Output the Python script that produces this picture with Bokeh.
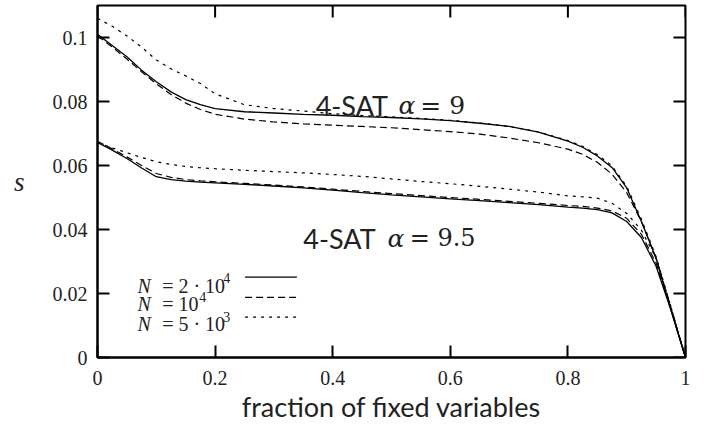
from bokeh.plotting import figure
from bokeh.models import Range1d, FixedTicker, Label, ColumnDataSource
from bokeh.embed import file_html
from bokeh.resources import INLINE

# ---------------- data ----------------
x_frac = [0, 0.025, 0.05, 0.075, 0.1, 0.125, 0.15, 0.175, 0.2, 0.25, 0.3, 0.35,
          0.4, 0.45, 0.5, 0.55, 0.6, 0.65, 0.7, 0.75, 0.8, 0.825, 0.85, 0.875,
          0.9, 0.925, 0.95, 0.975, 1.0]

# 4-SAT alpha = 9
s9_n20k = [0.1010, 0.0975, 0.0940, 0.0898, 0.0862, 0.0830, 0.0806, 0.0790, 0.0778,
           0.0768, 0.0764, 0.0760, 0.0757, 0.0753, 0.0750, 0.0746, 0.0740, 0.0732,
           0.0722, 0.0704, 0.0676, 0.0657, 0.0630, 0.0594, 0.0530, 0.0425, 0.0310,
           0.0150, 0.0]
s9_n10k = [0.1005, 0.0970, 0.0933, 0.0893, 0.0855, 0.0822, 0.0795, 0.0775, 0.0760,
           0.0745, 0.0736, 0.0730, 0.0726, 0.0722, 0.0718, 0.0712, 0.0706, 0.0698,
           0.0686, 0.0671, 0.0651, 0.0635, 0.0610, 0.0573, 0.0515, 0.0425, 0.0310,
           0.0155, 0.0]
s9_n5k = [0.1060, 0.1035, 0.1005, 0.0970, 0.0930, 0.0902, 0.0880, 0.0856, 0.0824,
          0.0790, 0.0778, 0.0770, 0.0762, 0.0756, 0.0752, 0.0747, 0.0741, 0.0733,
          0.0722, 0.0705, 0.0678, 0.0660, 0.0634, 0.0599, 0.0535, 0.0432, 0.0315,
          0.0160, 0.0]

# 4-SAT alpha = 9.5
s95_n20k = [0.0672, 0.0648, 0.0622, 0.0592, 0.0565, 0.0556, 0.0551, 0.0548, 0.0546,
            0.0541, 0.0536, 0.0530, 0.0523, 0.0515, 0.0508, 0.0502, 0.0496, 0.0490,
            0.0484, 0.0478, 0.0470, 0.0467, 0.0462, 0.0452, 0.0425, 0.0375, 0.0285,
            0.0150, 0.0]
s95_n10k = [0.0676, 0.0652, 0.0627, 0.0600, 0.0575, 0.0563, 0.0556, 0.0552, 0.0549,
            0.0544, 0.0539, 0.0533, 0.0526, 0.0519, 0.0512, 0.0506, 0.0500, 0.0494,
            0.0488, 0.0482, 0.0475, 0.0472, 0.0467, 0.0458, 0.0435, 0.0385, 0.0295,
            0.0155, 0.0]
s95_n5k = [0.0672, 0.0655, 0.0640, 0.0625, 0.0612, 0.0603, 0.0597, 0.0593, 0.0590,
           0.0585, 0.0581, 0.0577, 0.0572, 0.0566, 0.0558, 0.0550, 0.0543, 0.0535,
           0.0526, 0.0517, 0.0505, 0.0502, 0.0498, 0.0482, 0.0450, 0.0398, 0.0310,
           0.0160, 0.0]

series_labels = ["= 2 · 10", "= 10", "= 5 · 10"]
series_exponents = ["4", "4", "3"]

x_ticks = [0, 0.2, 0.4, 0.6, 0.8, 1.0]
x_tick_labels = ["0", "0.2", "0.4", "0.6", "0.8", "1"]
y_ticks = [0, 0.02, 0.04, 0.06, 0.08, 0.1]
y_tick_labels = ["0", "0.02", "0.04", "0.06", "0.08", "0.1"]

# ---------------- styles ----------------
SERIF = "Liberation Serif"
MATH = "DejaVu Serif"
SANS = "Lato"
INK = "#222222"
dashes = ["solid", "7 4", "3 5"]
widths = [1.3, 1.2, 1.2]
X_MAX, Y_MAX = 1.0, 0.11
FRAME_W, FRAME_H = 588, 352
TICK_PX = 12

p = figure(frame_width=FRAME_W, frame_height=FRAME_H,
           x_range=Range1d(0, X_MAX), y_range=Range1d(0, Y_MAX),
           output_backend="svg", toolbar_location=None,
           min_border_left=97, min_border_right=12, min_border_top=5,
           min_border_bottom=62)
p.xgrid.visible = False
p.ygrid.visible = False
p.outline_line_color = "black"
p.outline_line_width = 2
p.background_fill_color = "white"

src = ColumnDataSource(dict(x=x_frac, a=s9_n20k, b=s9_n10k, c=s9_n5k,
                            d=s95_n20k, e=s95_n10k, f=s95_n5k))
for col, i in [("a", 0), ("b", 1), ("c", 2), ("d", 0), ("e", 1), ("f", 2)]:
    p.line("x", col, source=src, line_color="black", line_width=widths[i],
           line_dash=dashes[i])


def style_axis(ax, ticks, labels):
    ax.ticker = FixedTicker(ticks=ticks)
    ax.major_label_overrides = {t: l for t, l in zip(ticks, labels)}
    ax.minor_tick_line_color = None
    ax.major_tick_in = TICK_PX
    ax.major_tick_out = 0
    ax.major_tick_line_width = 2
    ax.axis_line_width = 2
    ax.axis_line_color = "black"
    ax.major_tick_line_color = "black"
    ax.major_label_text_font = SERIF
    ax.major_label_text_color = INK
    ax.major_label_text_font_size = "20px"


style_axis(p.xaxis[0], x_ticks, x_tick_labels)
style_axis(p.yaxis[0], y_ticks, y_tick_labels)
p.xaxis[0].major_label_standoff = 13
p.yaxis[0].major_label_standoff = 10

p.xaxis[0].axis_label = "fraction of fixed variables"
p.xaxis[0].axis_label_text_font = SANS
p.xaxis[0].axis_label_text_font_style = "normal"
p.xaxis[0].axis_label_text_font_size = "27px"
p.xaxis[0].axis_label_text_color = INK
p.xaxis[0].axis_label_standoff = 2

p.yaxis[0].axis_label = "s"
p.yaxis[0].axis_label_orientation = "horizontal"
p.yaxis[0].axis_label_text_font = SERIF
p.yaxis[0].axis_label_text_font_style = "italic"
p.yaxis[0].axis_label_text_font_size = "27px"
p.yaxis[0].axis_label_text_color = INK
p.yaxis[0].axis_label_standoff = 25

# mirrored inward ticks on the top and right edges (tick length of TICK_PX pixels)
dy_tick = TICK_PX * Y_MAX / FRAME_H
dx_tick = TICK_PX * X_MAX / FRAME_W
top_src = ColumnDataSource(dict(x0=x_ticks, y0=[Y_MAX] * len(x_ticks),
                                x1=x_ticks, y1=[Y_MAX - dy_tick] * len(x_ticks)))
right_src = ColumnDataSource(dict(x0=[X_MAX] * len(y_ticks), y0=y_ticks,
                                  x1=[X_MAX - dx_tick] * len(y_ticks), y1=y_ticks))
p.segment(x0="x0", y0="y0", x1="x1", y1="y1", source=top_src,
          line_color="black", line_width=2)
p.segment(x0="x0", y0="y0", x1="x1", y1="y1", source=right_src,
          line_color="black", line_width=2)

# ---------------- annotations ----------------
def add_label(x, y, text, font, size, style="normal", color=INK):
    p.add_layout(Label(x=x, y=y, text=text, text_font=font, text_font_size=size,
                       text_font_style=style, text_color=color,
                       text_baseline="alphabetic", text_align="left"))

# 4-SAT alpha = 9
add_label(0.371, 0.0788, "4-SAT", SANS, "27px")
add_label(0.512, 0.0788, "α", MATH, "25px", "italic")
add_label(0.549, 0.0788, "= 9", MATH, "25px")
# 4-SAT alpha = 9.5
add_label(0.350, 0.0372, "4-SAT", SANS, "27px")
add_label(0.493, 0.0372, "α", MATH, "25px", "italic")
add_label(0.531, 0.0372, "= 9.5", MATH, "24px")

# legend (text on the left, line sample on the right)
leg_text_x = 0.068
leg_eq_x = 0.110
leg_exp_x = [0.214, 0.173, 0.214]
leg_base_y = [0.0225, 0.0166, 0.0106]
leg_line_y = [0.0251, 0.0188, 0.0126]
leg_x0, leg_x1 = 0.251, 0.339
for i in range(3):
    add_label(leg_text_x, leg_base_y[i], "N", SERIF, "20px", "italic")
    add_label(leg_eq_x, leg_base_y[i], series_labels[i], SERIF, "20px")
    add_label(leg_exp_x[i], leg_base_y[i] + 0.0022, series_exponents[i], SERIF, "14px")
    p.segment(x0=[leg_x0], y0=[leg_line_y[i]], x1=[leg_x1], y1=[leg_line_y[i]],
              line_color="black", line_width=widths[i], line_dash=dashes[i])

open("out.html", "w").write(file_html(p, INLINE))
